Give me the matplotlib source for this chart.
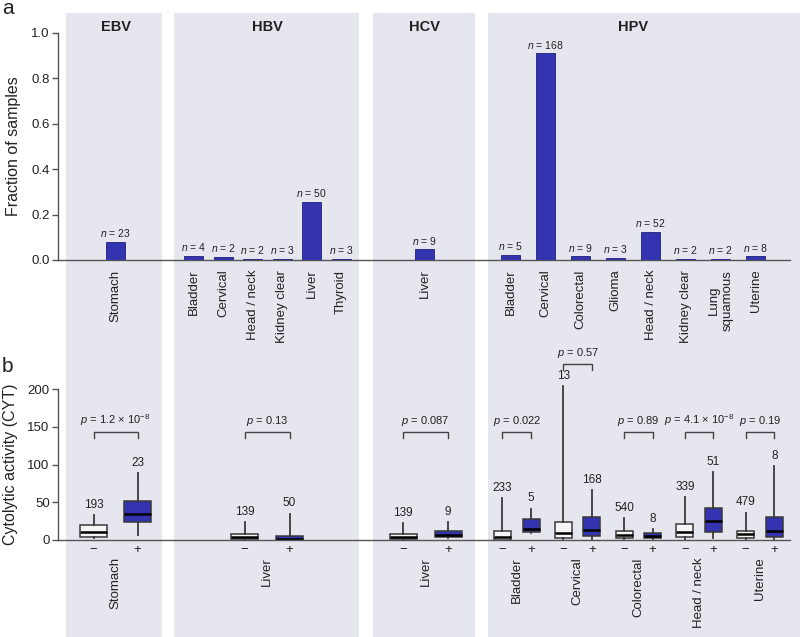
import numpy as np
import matplotlib
matplotlib.use("Agg")
import matplotlib.pyplot as plt
from matplotlib.patches import Rectangle
from matplotlib.transforms import blended_transform_factory

plt.rcParams['font.family'] = ['Liberation Sans', 'DejaVu Sans']
plt.rcParams['mathtext.fontset'] = 'custom'
plt.rcParams['mathtext.rm'] = 'Liberation Sans'
plt.rcParams['mathtext.it'] = 'Liberation Sans:italic'
plt.rcParams['mathtext.default'] = 'regular'

# ---- data: panel a (fraction of virus-positive samples) ----
groups = ['EBV', 'HBV', 'HCV', 'HPV']
ebv_cats = ['Stomach']
ebv_frac = [0.080]
ebv_n = [23]
hbv_cats = ['Bladder', 'Cervical', 'Head / neck', 'Kidney clear', 'Liver', 'Thyroid']
hbv_frac = [0.018, 0.012, 0.006, 0.006, 0.254, 0.006]
hbv_n = [4, 2, 2, 3, 50, 3]
hcv_cats = ['Liver']
hcv_frac = [0.047]
hcv_n = [9]
hpv_cats = ['Bladder', 'Cervical', 'Colorectal', 'Glioma', 'Head / neck',
            'Kidney clear', 'Lung\nsquamous', 'Uterine']
hpv_frac = [0.021, 0.909, 0.016, 0.009, 0.125, 0.005, 0.005, 0.016]
hpv_n = [5, 168, 9, 3, 52, 2, 2, 8]

# ---- data: panel b (CYT, virus - / +) ----
cyt_cats = ['Stomach', 'Liver', 'Liver', 'Bladder', 'Cervical', 'Colorectal', 'Head / neck', 'Uterine']
cyt_group = [0, 1, 2, 3, 3, 3, 3, 3]
# q1, median, q3, whisker low, whisker high
neg_q1 = [4.4, 1.0, 1.0, 0.5, 2.2, 2.2, 3.5, 2.2]
neg_med = [10.2, 3.5, 3.5, 4.0, 8.8, 6.6, 10.2, 7.5]
neg_q3 = [19.5, 8.0, 7.5, 12.0, 24.3, 11.5, 21.7, 11.5]
neg_lo = [2.0, 0.0, 0.0, 0.0, 0.0, 0.0, 0.0, 0.0]
neg_hi = [33.0, 24.0, 22.0, 56.0, 204.0, 29.6, 56.6, 36.3]
neg_n = [193, 139, 139, 233, 13, 540, 339, 479]
pos_q1 = [23.5, 0.3, 4.0, 11.0, 5.8, 2.7, 10.2, 4.0]
pos_med = [34.0, 1.8, 7.0, 14.6, 13.3, 5.8, 25.6, 12.0]
pos_q3 = [52.2, 5.3, 11.5, 28.3, 31.0, 8.8, 42.5, 31.0]
pos_lo = [6.6, 0.0, 2.0, 8.8, 1.0, 1.0, 2.0, 1.0]
pos_hi = [88.5, 35.0, 24.0, 41.6, 66.0, 14.2, 90.6, 98.0]
pos_n = [23, 50, 9, 5, 168, 8, 51, 8]
p_labels = [r'$\it{p}$ = 1.2 × 10$^{-8}$', r'$\it{p}$ = 0.13', r'$\it{p}$ = 0.087',
            r'$\it{p}$ = 0.022', r'$\it{p}$ = 0.57', r'$\it{p}$ = 0.89',
            r'$\it{p}$ = 4.1 × 10$^{-8}$', r'$\it{p}$ = 0.19']
bracket_y = [135, 135, 135, 135, 225, 135, 135, 135]

# ---- layout (x in pixel units of the 800 px wide figure) ----
W, H = 800, 637
group_span = [(66, 162), (174, 359), (373, 475), (488, 800)]
group_center_a = [115.5, 267.4, 424.5, 633.0]
group_step_a = [0, 29.5, 0, 35.0]
group_center_b = [115.5, 267.0, 425.5, 638.4]
group_step_b = [0, 0, 0, 60.8]
pair_off = [22.0, 22.5, 22.5, 14.3]
box_w = [27, 27, 27, 17]

blue = '#3434b0'
shade = '#e6e6ef'
txt = '#222222'
spine_c = '#555555'

fig = plt.figure(figsize=(W / 100, H / 100), dpi=100)

for x0, x1 in group_span:
    fig.add_artist(Rectangle((x0 / W, 0), (x1 - x0) / W, 1 - 13 / H,
                             transform=fig.transFigure, color=shade, zorder=0, lw=0))

ax_a = fig.add_axes([58 / W, 1 - 260 / H, (W - 58) / W, (260 - 32.7) / H])
ax_b = fig.add_axes([58 / W, 1 - 540 / H, (W - 58) / W, (540 - 344.1) / H])
for ax in (ax_a, ax_b):
    ax.patch.set_visible(False)
    ax.set_xlim(58, W)
    for s in ['top', 'right']:
        ax.spines[s].set_visible(False)
    for s in ['left', 'bottom']:
        ax.spines[s].set_color(spine_c)
        ax.spines[s].set_linewidth(1.0)
    ax.spines['bottom'].set_bounds(58, 790)
    ax.tick_params(axis='y', direction='out', length=4, width=1.0, color=spine_c,
                   labelsize=9.5, labelcolor=txt, pad=2)

# ---- panel a ----
cats_a = [ebv_cats, hbv_cats, hcv_cats, hpv_cats]
frac_a = [ebv_frac, hbv_frac, hcv_frac, hpv_frac]
n_a = [ebv_n, hbv_n, hcv_n, hpv_n]
xt, xl = [], []
for g in range(4):
    k = len(cats_a[g])
    xs = group_center_a[g] + group_step_a[g] * (np.arange(k) - (k - 1) / 2)
    bars = ax_a.bar(xs, frac_a[g], width=19, color=blue, edgecolor='#20207a', lw=0.6, zorder=3)
    for b, n in zip(bars, n_a[g]):
        ax_a.annotate(r'$\it{n}$ = %d' % n, (b.get_x() + b.get_width() / 2, b.get_height()),
                      xytext=(0, 2), textcoords='offset points', ha='center', va='bottom',
                      fontsize=7.5, color=txt)
    xt += list(xs)
    xl += cats_a[g]
ax_a.set_ylim(0, 1.0)
ax_a.set_yticks(np.arange(0, 1.01, 0.2))
ax_a.set_yticklabels(['%.1f' % v for v in np.arange(0, 1.01, 0.2)])
ax_a.set_xticks(xt)
ax_a.set_xticklabels(xl, rotation=90, fontsize=9.5, color=txt, va='top', ha='center')
ax_a.tick_params(axis='x', length=0, pad=7)
ax_a.set_ylabel('Fraction of samples', fontsize=11.5, color=txt, labelpad=7)

for g in range(4):
    fig.text(group_center_a[g] / W, 1 - 27 / H, groups[g], fontsize=10.5, fontweight='bold',
             ha='center', va='center', color=txt)

# ---- panel b ----
trans_b = blended_transform_factory(ax_b.transData, ax_b.transAxes)
xt, xl = [], []
for i, cat in enumerate(cyt_cats):
    g = cyt_group[i]
    members = [j for j in range(len(cyt_cats)) if cyt_group[j] == g]
    k = len(members)
    c = group_center_b[g] + group_step_b[g] * (members.index(i) - (k - 1) / 2)
    xn, xp = c - pair_off[g], c + pair_off[g]
    stats = [dict(q1=neg_q1[i], med=neg_med[i], q3=neg_q3[i], whislo=neg_lo[i], whishi=neg_hi[i]),
             dict(q1=pos_q1[i], med=pos_med[i], q3=pos_q3[i], whislo=pos_lo[i], whishi=pos_hi[i])]
    bp = ax_b.bxp(stats, positions=[xn, xp], widths=box_w[g], showfliers=False, showcaps=False,
                  patch_artist=True, manage_ticks=False,
                  boxprops=dict(edgecolor='#3a3a3a', lw=1.1),
                  whiskerprops=dict(color='#3a3a3a', lw=1.3),
                  medianprops=dict(color='black', lw=1.8))
    bp['boxes'][0].set_facecolor('#f6f6f8')
    bp['boxes'][1].set_facecolor(blue)
    for x, hi, n in [(xn, neg_hi[i], neg_n[i]), (xp, pos_hi[i], pos_n[i])]:
        ax_b.annotate(str(n), (x, hi), xytext=(0, 3), textcoords='offset points',
                      ha='center', va='bottom', fontsize=8.5, color=txt)
    y0 = bracket_y[i]
    ax_b.plot([xn, xn, xp, xp], [y0, y0 + 8.7, y0 + 8.7, y0], color='#444444', lw=1.0, clip_on=False)
    ax_b.text(c, y0 + 14, p_labels[i], ha='center', va='bottom', fontsize=8, color=txt)
    ax_b.annotate(cat, (c, 0), xycoords=trans_b, xytext=(0, -12.5), textcoords='offset points',
                  rotation=90, ha='center', va='top', fontsize=9.5, color=txt)
    xt += [xn, xp]
    xl += ['\u2212', '+']
ax_b.set_ylim(0, 260)
ax_b.spines['left'].set_bounds(0, 200)
ax_b.set_yticks([0, 50, 100, 150, 200])
ax_b.set_xticks(xt)
ax_b.set_xticklabels(xl, fontsize=9.5, color=txt)
ax_b.tick_params(axis='x', length=0, pad=3)
ax_b.set_ylabel('Cytolytic activity (CYT)', fontsize=11.5, color=txt)
ax_b.yaxis.set_label_coords(-0.054, 100 / 260)

fig.text(2 / W, 1 - 8 / H, 'a', fontsize=15, ha='left', va='center', color=txt)
fig.text(2 / W, 1 - 366 / H, 'b', fontsize=15, ha='left', va='center', color=txt)

fig.savefig('out.png', dpi=100)
